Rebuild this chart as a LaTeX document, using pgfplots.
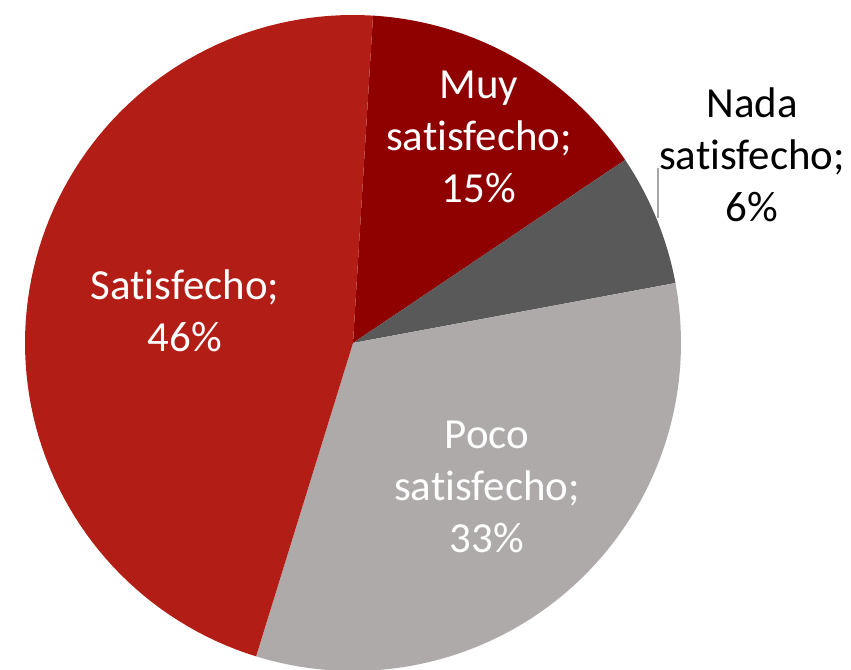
\documentclass[border=0pt]{standalone}
\usepackage{pgfplots}
\pgfplotsset{compat=1.18}
\usepackage{fontspec}
\setmainfont{Carlito}[Ligatures=NoCommon]
\definecolor{muy}{RGB}{143,0,0}
\definecolor{nada}{RGB}{89,89,89}
\definecolor{poco}{RGB}{174,170,170}
\definecolor{sat}{RGB}{178,30,22}
\definecolor{leader}{RGB}{166,166,166}
% slice values (percent, as drawn)
\def\vMuy{14.6}
\def\vNada{6.5}
\def\vPoco{32.7}
\def\vSat{46.2}
\pgfmathsetmacro{\aA}{86.5}
\pgfmathsetmacro{\aB}{\aA-\vMuy*3.6}
\pgfmathsetmacro{\aC}{\aB-\vNada*3.6}
\pgfmathsetmacro{\aD}{\aC-\vPoco*3.6}
\pgfmathsetmacro{\aE}{\aD-\vSat*3.6}
\def\cx{353}
\def\cy{326}
\def\R{328}
\tikzset{lab/.style={font=\fontsize{12.2}{14.8}\selectfont, align=center, inner sep=0pt}}
\begin{document}
\begin{tikzpicture}
\begin{axis}[
  width=8.51cm, height=6.69cm, scale only axis,
  xmin=0, xmax=851, ymin=0, ymax=669,
  hide axis, clip=true,
  samples=90, variable=\t,
]
\addplot[draw=none, fill=muy, domain=\aB:\aA] ({\cx+\R*cos(\t)},{\cy+\R*sin(\t)}) -- (axis cs:\cx,\cy) -- cycle;
\addplot[draw=none, fill=nada, domain=\aC:\aB] ({\cx+\R*cos(\t)},{\cy+\R*sin(\t)}) -- (axis cs:\cx,\cy) -- cycle;
\addplot[draw=none, fill=poco, domain=\aD:\aC] ({\cx+\R*cos(\t)},{\cy+\R*sin(\t)}) -- (axis cs:\cx,\cy) -- cycle;
\addplot[draw=none, fill=sat, domain=\aE:\aD] ({\cx+\R*cos(\t)},{\cy+\R*sin(\t)}) -- (axis cs:\cx,\cy) -- cycle;
\addplot[leader, line width=0.5pt] coordinates {(658,501) (658,451)};
\node[lab, text=white] at (axis cs:479,532) {Muy\\satisfecho;\\15\%};
\node[lab, text=black] at (axis cs:752,514) {Nada\\satisfecho;\\6\%};
\node[lab, text=white] at (axis cs:185,358) {Satisfecho;\\46\%};
\node[lab, text=white] at (axis cs:487,182) {Poco\\satisfecho;\\33\%};
\end{axis}
\pgfresetboundingbox
\useasboundingbox (current axis.south west) rectangle (current axis.north east);
\end{tikzpicture}
\end{document}
